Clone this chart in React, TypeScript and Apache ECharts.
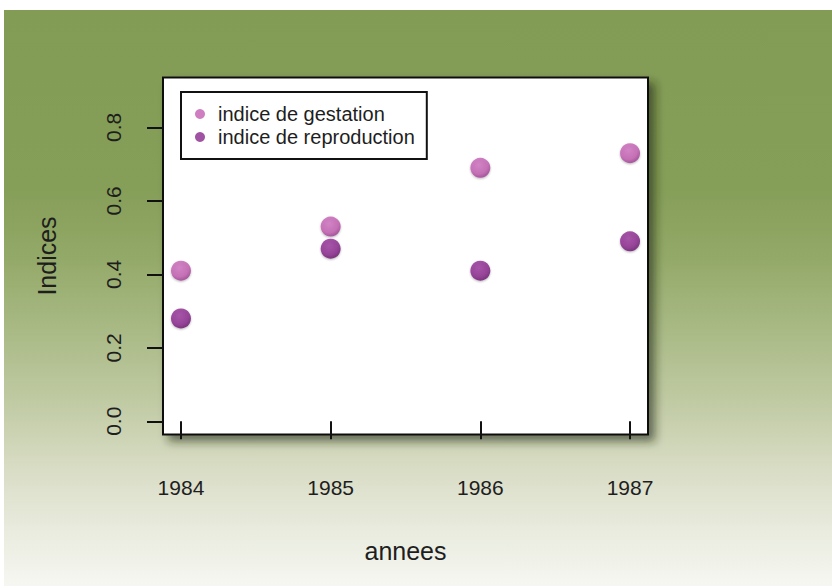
import React, { useEffect, useRef } from "react";
import * as echarts from "echarts";

const years = [1984, 1985, 1986, 1987];
const gestation = [0.41, 0.53, 0.69, 0.73];
const reproduction = [0.28, 0.47, 0.41, 0.49];
const yTicks = [0, 0.2, 0.4, 0.6, 0.8];
const seriesNames = ["indice de gestation", "indice de reproduction"];
const xTitle = "annees";
const yTitle = "Indices";

const FONT = "'Liberation Sans', Arial, Helvetica, sans-serif";
const TXT = "#1e1e1e";

function ball(light: string, main: string, dark: string) {
  return {
    type: "radial",
    x: 0.42,
    y: 0.35,
    r: 0.7,
    colorStops: [
      { offset: 0, color: light },
      { offset: 0.65, color: main },
      { offset: 1, color: dark },
    ],
  };
}

export default function App() {
  const ref = useRef<HTMLDivElement>(null);
  useEffect(() => {
    document.body.style.margin = "0";
    const chart = echarts.init(ref.current!, null, { renderer: "svg" });
    chart.setOption({
      animation: false,
      backgroundColor: "transparent",
      textStyle: { fontFamily: FONT, color: TXT },
      grid: {
        left: 163,
        top: 77.5,
        width: 485,
        height: 357,
        show: true,
        backgroundColor: "#ffffff",
        borderColor: "#111111",
        borderWidth: 2,
        shadowBlur: 10,
        shadowColor: "rgba(30,40,10,0.6)",
        shadowOffsetX: 6,
        shadowOffsetY: 6,
      },
      legend: {
        left: 181,
        top: 92,
        orient: "vertical",
        backgroundColor: "#ffffff",
        borderColor: "#111111",
        borderWidth: 2,
        borderRadius: 0,
        padding: [12, 12, 12, 14],
        itemGap: 3,
        itemWidth: 26,
        itemHeight: 10,
        icon: "circle",
        textStyle: { fontFamily: FONT, fontSize: 20, color: TXT, lineHeight: 20 },
        data: [
          { name: seriesNames[0], itemStyle: { color: "#c35fb2" } },
          { name: seriesNames[1], itemStyle: { color: "#8a288c" } },
        ],
      },
      xAxis: {
        type: "value",
        min: 1983.88,
        max: 1987.12,
        name: xTitle,
        nameLocation: "middle",
        nameGap: 104,
        nameTextStyle: { fontFamily: FONT, fontSize: 25, color: TXT },
        axisLine: { show: false },
        splitLine: { show: false },
        axisTick: {
          show: true,
          inside: false,
          length: 18,
          customValues: years,
          lineStyle: { color: "#111111", width: 2 },
        },
        axisLabel: {
          customValues: years,
          margin: 42,
          fontFamily: FONT,
          fontSize: 21,
          color: TXT,
          formatter: (v: number) => String(Math.round(v)),
        },
      },
      yAxis: {
        type: "value",
        min: -0.036,
        max: 0.936,
        name: yTitle,
        nameLocation: "middle",
        nameGap: 104,
        nameTextStyle: { fontFamily: FONT, fontSize: 25, color: TXT },
        axisLine: { show: false },
        splitLine: { show: false },
        axisTick: {
          show: true,
          inside: false,
          length: 16,
          customValues: yTicks,
          lineStyle: { color: "#111111", width: 2 },
        },
        axisLabel: {
          customValues: yTicks,
          rotate: 90,
          margin: 39,
          fontFamily: FONT,
          fontSize: 21,
          color: TXT,
          formatter: (v: number) => v.toFixed(1),
        },
      },
      series: [
        {
          name: seriesNames[0],
          type: "scatter",
          symbol: "circle",
          symbolSize: 20,
          data: years.map((y, i) => [y, gestation[i]]),
          itemStyle: {
            color: ball("#cf72c0", "#c05bae", "#903586"),
            shadowBlur: 2,
            shadowColor: "rgba(0,0,0,0.35)",
            shadowOffsetY: 1,
          },
        },
        {
          name: seriesNames[1],
          type: "scatter",
          symbol: "circle",
          symbolSize: 20,
          data: years.map((y, i) => [y, reproduction[i]]),
          itemStyle: {
            color: ball("#9c3a9e", "#87258a", "#5e0e62"),
            shadowBlur: 2,
            shadowColor: "rgba(0,0,0,0.35)",
            shadowOffsetY: 1,
          },
        },
      ],
    });
    return () => chart.dispose();
  }, []);

  return (
    <div style={{ position: "relative", width: 832, height: 588, background: "#ffffff" }}>
      <div
        style={{
          position: "absolute",
          left: 4,
          top: 10,
          width: 828,
          height: 576,
          background:
            "linear-gradient(to bottom, #839c55 0%, #859e58 31%, #93a968 43%, #a8b984 55%, #c0caa3 68%, #d9ddc6 80%, #e8ebdd 90%, #f6f7f2 100%)",
        }}
      />
      <div ref={ref} style={{ position: "absolute", left: 0, top: 0, width: 832, height: 588 }} />
    </div>
  );
}
